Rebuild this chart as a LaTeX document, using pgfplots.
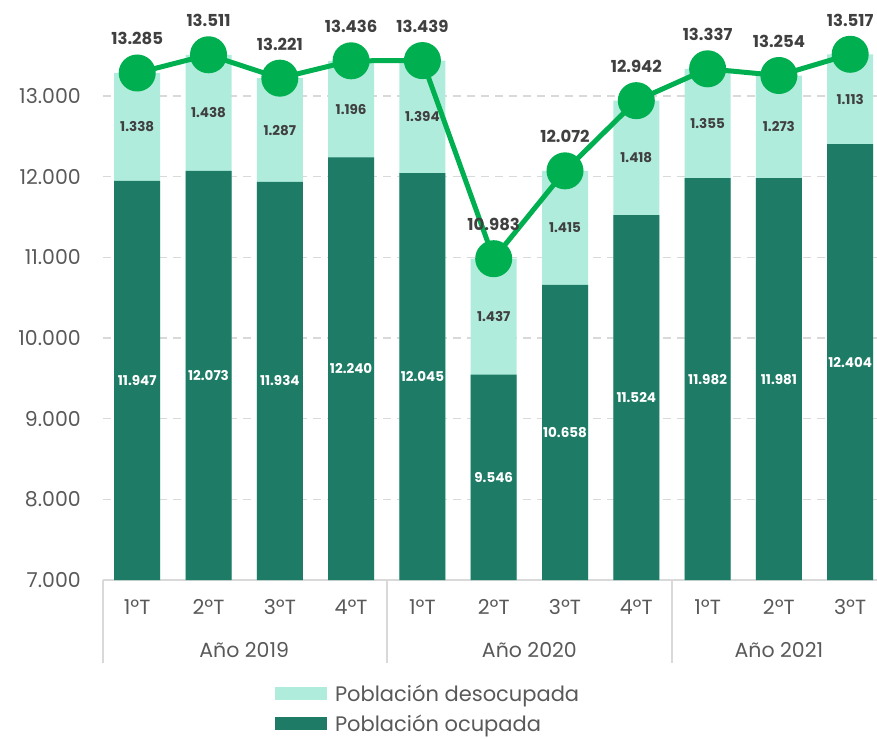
\documentclass[border=0pt]{standalone}
\usepackage{fontspec}
\setmainfont{Poppins}
\usepackage{pgfplots}
\pgfplotsset{compat=1.18}
\usepackage{pgfplotstable}
\definecolor{dark}{HTML}{1E7B65}
\definecolor{light}{HTML}{B0ECDC}
\definecolor{lgreen}{HTML}{00B050}
\definecolor{lbl}{HTML}{404040}
\definecolor{txt}{HTML}{595959}
\definecolor{gridc}{HTML}{D9D9D9}

\pgfplotstableread{
x ocup desoc total
0 11947 1338 13285
1 12073 1438 13511
2 11934 1287 13221
3 12240 1196 13436
4 12045 1394 13439
5 9546 1437 10983
6 10658 1415 12072
7 11524 1418 12942
8 11982 1355 13337
9 11981 1273 13254
10 12404 1113 13517
}\data

\begin{document}
\begin{tikzpicture}
\useasboundingbox (-103pt,-158pt) rectangle (774pt,580pt);
\begin{axis}[
  scale only axis, width=774pt, height=580pt,
  at={(0pt,0pt)}, anchor=south west,
  xmin=-0.48, xmax=10.376, ymin=7000, ymax=14190,
  clip mode=individual,
  axis x line*=bottom, axis y line*=left,
  y axis line style={draw=none},
  x axis line style={draw=gridc, line width=1.5pt},
  major tick length=0pt,
  xtick={0,...,10},
  xticklabels={1ºT,2ºT,3ºT,4ºT,1ºT,2ºT,3ºT,4ºT,1ºT,2ºT,3ºT},
  ytick={7000,8000,...,13000},
  scaled y ticks=false,
  yticklabel={\pgfmathprintnumber[fixed, precision=0, 1000 sep={.}, assume math mode=true]{\tick}},
  ymajorgrids,
  grid style={gridc, line width=1.5pt, dash pattern=on 8pt off 6pt},
  ticklabel style={font=\fontsize{20.5}{24}\selectfont, text=txt},
  yticklabel style={anchor=east, inner sep=0pt, xshift=-22pt},
  xticklabel style={anchor=center, inner sep=0pt, yshift=-27pt},
  /pgf/number format/1000 sep={.},
  /pgf/number format/assume math mode=true,
  legend style={at={(axis description cs:0.222,-0.177)}, anchor=north west,
    draw=none, fill=none, inner sep=0pt, row sep=8pt,
    font=\fontsize{21}{24}\selectfont, text=txt,
    /tikz/every odd column/.append style={column sep=6pt}},
  legend cell align=left,
]
\addlegendimage{fill=light, draw=none, legend image code/.code={\fill[light] (0pt,-6.5pt) rectangle (52pt,6.5pt);}}
\addlegendentry{Población desocupada}
\addlegendimage{fill=dark, draw=none, legend image code/.code={\fill[dark] (0pt,-6.5pt) rectangle (52pt,6.5pt);}}
\addlegendentry{Población ocupada}

\addplot[ybar, bar width=46pt, bar shift=0pt, fill=light, draw=none, forget plot]
  table[x=x, y=total]{\data};
\addplot[ybar, bar width=46pt, bar shift=0pt, fill=dark, draw=none, forget plot]
  table[x=x, y=ocup]{\data};

\addplot[draw=none, mark=none, forget plot, point meta=explicit,
  nodes near coords={\pgfmathprintnumber[1000 sep={.}, assume math mode=true]{\pgfplotspointmeta}},
  every node near coord/.append style={anchor=center, font=\bfseries\fontsize{13.5}{15}\selectfont, text=white}]
  table[x=x, y expr=(\thisrow{ocup}+7000)/2, meta=ocup]{\data};
\addplot[draw=none, mark=none, forget plot, point meta=explicit,
  nodes near coords={\pgfmathprintnumber[1000 sep={.}, assume math mode=true]{\pgfplotspointmeta}},
  every node near coord/.append style={anchor=center, font=\bfseries\fontsize{13.5}{15}\selectfont, text=lbl}]
  table[x=x, y expr=\thisrow{ocup}+\thisrow{desoc}/2, meta=desoc]{\data};

\addplot[lgreen, line width=5pt, mark=*, mark size=16pt, mark options={draw=none, fill=lgreen}, forget plot,
  point meta=explicit,
  nodes near coords={\pgfmathprintnumber[1000 sep={.}, assume math mode=true]{\pgfplotspointmeta}},
  every node near coord/.append style={anchor=base, yshift=28pt, font=\bfseries\fontsize{16.5}{19}\selectfont, text=lbl}]
  table[x=x, y=total, meta=total]{\data};

\draw[gridc, line width=1.5pt] (axis cs:-0.48,7000) -- ++(0pt,-83pt);
\draw[gridc, line width=1.5pt] (axis cs:3.5,7000) -- ++(0pt,-83pt);
\draw[gridc, line width=1.5pt] (axis cs:7.5,7000) -- ++(0pt,-83pt);
\node[font=\fontsize{20.5}{24}\selectfont, text=txt] at (axis cs:1.5,7000) [yshift=-70pt] {Año 2019};
\node[font=\fontsize{20.5}{24}\selectfont, text=txt] at (axis cs:5.5,7000) [yshift=-70pt] {Año 2020};
\node[font=\fontsize{20.5}{24}\selectfont, text=txt] at (axis cs:9,7000) [yshift=-70pt] {Año 2021};
\end{axis}
\end{tikzpicture}
\end{document}
